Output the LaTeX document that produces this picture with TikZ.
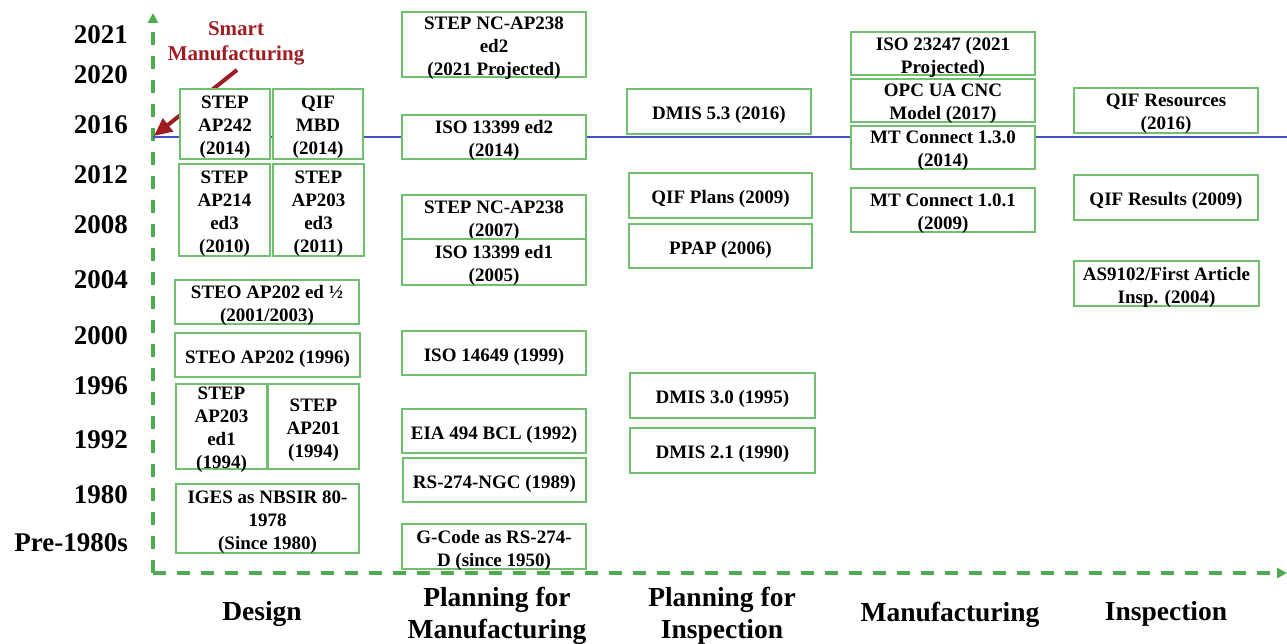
\documentclass[tikz,border=0pt]{standalone}
\usepackage{fontspec}
\setmainfont{Liberation Serif}
\usetikzlibrary{arrows.meta}

\definecolor{axisgreen}{RGB}{76,172,78}
\definecolor{boxgreen}{RGB}{112,192,112}
\definecolor{timeblue}{RGB}{64,82,198}
\definecolor{smartred}{RGB}{158,28,34}

% box given by its corners (x1,y1)-(x2,y2); its text sits a little below the centre
% and may run over the frame, so the frame keeps its size
\newcommand\tbox[6]{%
  \node[tbox, minimum width={#4-#2}, minimum height={#5-#3}]
    (#1) at ({(#2+#4)/2},{(#3+#5)/2}) {};
  \node[boxtext] (#1-text) at ([yshift=-3.5pt]#1.center) {#6};}

\begin{document}
\begin{tikzpicture}[x=1pt,y=-1pt,
  tbox/.style={draw=boxgreen, line width=1.8pt, fill=white, inner sep=0pt},
  boxtext/.style={inner sep=0pt, align=center,
    font=\bfseries\fontsize{19}{23}\selectfont},
  yearlbl/.style={anchor=east, inner sep=0pt, font=\bfseries\fontsize{27}{30}\selectfont},
  collbl/.style={anchor=base, inner sep=0pt, align=center,
    font=\bfseries\fontsize{27.5}{32}\selectfont},
  collbltwo/.style={anchor=center, inner sep=0pt, align=center,
    font=\bfseries\fontsize{27.5}{32}\selectfont},
  axisline/.style={draw=axisgreen, line width=3.6pt, dash pattern=on 13pt off 11pt,
    -{Triangle[length=10pt,width=10pt]}},
  timeline/.style={draw=timeblue, line width=2.2pt},
  smartarrow/.style={draw=smartred, line width=4pt,
    -{Triangle[length=18pt,width=16pt]}}]

\useasboundingbox (0,0) rectangle (1287,644);

% axes
\coordinate (origin) at (153,573);
\coordinate (ytop) at (153,13);
\coordinate (xend) at (1287,573);
\draw[axisline] (origin) -- (ytop);
\draw[axisline] (origin) -- (xend);

% 2016 time line
\coordinate (tl0) at (153,137);
\coordinate (tl1) at (1287,137);
\draw[timeline] (tl0) -- (tl1);

% smart manufacturing marker
\node[anchor=center, inner sep=0pt, align=center, text=smartred,
  font=\bfseries\fontsize{21}{25}\selectfont] (smart) at (236,43)
  {Smart\\Manufacturing};
\coordinate (smstart) at (237,70);
\coordinate (smtip) at (154,136);
\draw[smartarrow] (smstart) -- (smtip);

% year labels
\node[yearlbl] (y2021) at (128,35) {2021};
\node[yearlbl] (y2020) at (128,75) {2020};
\node[yearlbl] (y2016) at (128,125) {2016};
\node[yearlbl] (y2012) at (128,175) {2012};
\node[yearlbl] (y2008) at (128,225) {2008};
\node[yearlbl] (y2004) at (128,280) {2004};
\node[yearlbl] (y2000) at (128,336) {2000};
\node[yearlbl] (y1996) at (128,386) {1996};
\node[yearlbl] (y1992) at (128,440) {1992};
\node[yearlbl] (y1980) at (128,495) {1980};
\node[yearlbl] (ypre) at (128,543) {Pre-1980s};

% column labels
\node[collbl] (cDesign) at (262,620) {Design};
\node[collbltwo] (cPlanMfg) at (497,615.5) {Planning for\\Manufacturing};
\node[collbltwo] (cPlanIns) at (722,615.5) {Planning for\\Inspection};
\node[collbl] (cMfg) at (950,621) {Manufacturing};
\node[collbl] (cIns) at (1166,620) {Inspection};

% Design
\tbox{ap242}{180}{89}{270}{159}{STEP\\AP242\\(2014)}
\tbox{qifmbd}{273}{89}{363}{159}{QIF\\MBD\\(2014)}
\tbox{ap214}{179}{164}{270}{256}{STEP\\AP214\\ed3\\(2010)}
\tbox{ap203e3}{273}{164}{364}{256}{STEP\\AP203\\ed3\\(2011)}
\tbox{ap202h}{175}{280}{359}{324}{STEO AP202 ed ½\\(2001/2003)}
\tbox{ap202}{175}{333}{360}{377}{STEO AP202 (1996)}
\tbox{ap203e1}{176}{384}{267}{469}{STEP\\AP203\\ed1\\(1994)}
\tbox{ap201}{268}{384}{359}{469}{STEP\\AP201\\(1994)}
\tbox{iges}{176}{484}{359}{553}{IGES as NBSIR 80-\\1978\\(Since 1980)}

% Planning for Manufacturing
\tbox{nctwo}{402}{12}{586}{77}{STEP NC-AP238\\ed2\\(2021 Projected)}
\tbox{isoxb}{402}{115}{586}{159}{ISO 13399 ed2\\(2014)}
\tbox{ncone}{402}{195}{586}{239}{STEP NC-AP238\\(2007)}
\tbox{isoxa}{402}{239}{586}{285}{ISO 13399 ed1\\(2005)}
\tbox{iso14649}{402}{331}{586}{375}{ISO 14649 (1999)}
\tbox{eia494}{402}{409}{586}{453}{EIA 494 BCL (1992)}
\tbox{rsngc}{403}{458}{586}{502}{RS-274-NGC (1989)}
\tbox{gcode}{402}{524}{586}{569}{G-Code as RS-274-\\D (since 1950)}

% Planning for Inspection
\tbox{dmisfive}{627}{89}{811}{134}{DMIS 5.3 (2016)}
\tbox{qifplans}{629}{173}{812}{218}{QIF Plans (2009)}
\tbox{ppap}{629}{224}{812}{268}{PPAP (2006)}
\tbox{dmisthree}{630}{373}{815}{418}{DMIS 3.0 (1995)}
\tbox{dmistwo}{630}{428}{815}{473}{DMIS 2.1 (1990)}

% Manufacturing
\tbox{iso23247}{851}{32}{1035}{75}{ISO 23247 (2021\\Projected)}
\tbox{opcua}{851}{79}{1035}{122}{OPC UA CNC\\Model (2017)}
\tbox{mtnew}{851}{126}{1035}{169}{MT Connect 1.3.0\\(2014)}
\tbox{mtold}{851}{188}{1035}{232}{MT Connect 1.0.1\\(2009)}

% Inspection
\tbox{qifres}{1074}{88}{1258}{133}{QIF Resources\\(2016)}
\tbox{qifresults}{1074}{175}{1258}{220}{QIF Results (2009)}
\tbox{as9102}{1074}{261}{1259}{306}{AS9102/First Article\\Insp. (2004)}

\end{tikzpicture}
\end{document}
